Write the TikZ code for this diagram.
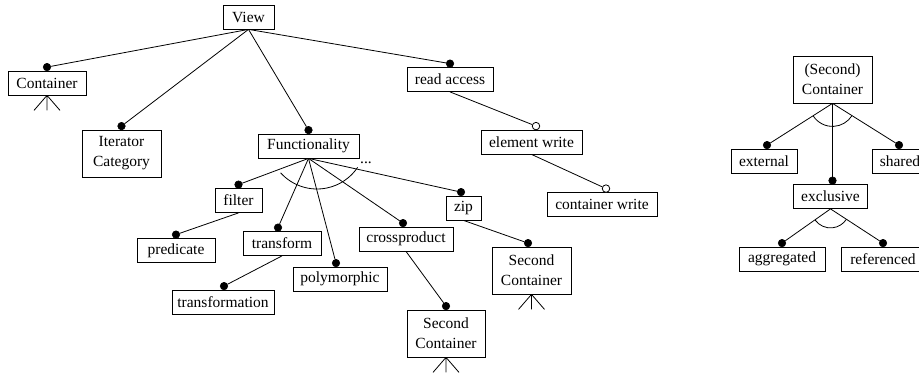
\documentclass[tikz,border=0pt]{standalone}
\usepackage{fontspec}
\setmainfont{Liberation Serif}
\begin{document}
\begin{tikzpicture}[x=1pt,y=-1pt,
  box/.style={draw, line width=0.8pt, font=\fontsize{15.5}{20}\selectfont, minimum height=24pt, inner xsep=2pt, inner ysep=0pt, align=center},
  tall/.style={box, minimum height=47pt},
  dot/.style={circle, fill=black, draw=black, line width=0.6pt, inner sep=0pt, minimum size=7.5pt},
  odot/.style={circle, fill=white, draw=black, line width=0.8pt, inner sep=0pt, minimum size=7.5pt},
  conn/.style={line width=0.8pt},
  lbl/.style={font=\fontsize{15.5}{20}\selectfont, inner sep=0pt}]
\useasboundingbox (0,0) rectangle (919,374);
\clip (0,0) rectangle (919,374);
% boxes
\node[box, minimum width=51pt] (view) at (248.5,17) {View};
\node[box, minimum width=78pt] (cont) at (47,83) {Container};
\node[tall, minimum width=79pt] (iter) at (121.5,153.5) {Iterator\\Category};
\node[box, minimum width=101pt] (func) at (308.5,146) {Functionality};
\node[box, minimum width=86pt] (read) at (450,79.5) {read access};
\node[box, minimum width=101pt] (ewrite) at (531.5,142) {element write};
\node[box, minimum width=110pt] (cwrite) at (602,204.5) {container write};
\node[box, minimum width=47pt] (filter) at (238.5,200.5) {filter};
\node[box, minimum width=78pt] (pred) at (176,250.5) {predicate};
\node[box, minimum width=78pt] (trans) at (282,243.5) {transform};
\node[box, minimum width=102pt] (transf) at (223,302) {transformation};
\node[box, minimum width=94pt] (poly) at (340,279) {polymorphic};
\node[box, minimum width=94pt] (cross) at (406,239) {crossproduct};
\node[box, minimum width=35pt] (zip) at (463.5,208) {zip};
\node[tall, minimum width=78pt] (sc1) at (446,333.5) {Second\\Container};
\node[tall, minimum width=79pt] (sc2) at (531.5,270.5) {Second\\Container};
\node[tall, minimum width=79pt] (sc) at (832.5,79.5) {(Second)\\Container};
\node[box, minimum width=66pt] (ext) at (764,161) {external};
\node[box, minimum width=56pt] (shared) at (900,161) {shared};
\node[box, minimum width=74pt] (excl) at (830.5,196.5) {exclusive};
\node[box, minimum width=86pt] (aggr) at (782,259) {aggregated};
\node[box, minimum width=84pt] (ref) at (883,259) {referenced};
\node[lbl, anchor=base west] (more) at (360,164) {...};
% dots
\node[dot] (dcont) at ([yshift=3.5pt]cont.north) {};
\node[dot] (diter) at ([yshift=3.5pt]iter.north) {};
\node[dot] (dfunc) at ([yshift=3.5pt]func.north) {};
\node[dot] (dread) at ([yshift=3.5pt]read.north) {};
\node[odot] (dewrite) at ([xshift=4.5pt,yshift=3.5pt]ewrite.north) {};
\node[odot] (dcwrite) at ([xshift=4pt,yshift=3.5pt]cwrite.north) {};
\node[dot] (dfilter) at ([yshift=3.5pt]filter.north) {};
\node[dot] (dpred) at ([yshift=3.5pt]pred.north) {};
\node[dot] (dtrans) at ([xshift=-4pt,yshift=3.5pt]trans.north) {};
\node[dot] (dtransf) at ([xshift=1pt,yshift=3.5pt]transf.north) {};
\node[dot] (dpoly) at ([xshift=-4pt,yshift=3.5pt]poly.north) {};
\node[dot] (dcross) at ([xshift=-3pt,yshift=3.5pt]cross.north) {};
\node[dot] (dzip) at ([xshift=-2.5pt,yshift=3.5pt]zip.north) {};
\node[dot] (dsc1) at ([yshift=3.5pt]sc1.north) {};
\node[dot] (dsc2) at ([xshift=-3.5pt,yshift=3.5pt]sc2.north) {};
\node[dot] (dext) at ([xshift=3pt,yshift=3.5pt]ext.north) {};
\node[dot] (dshared) at ([xshift=-1pt,yshift=3.5pt]shared.north) {};
\node[dot] (dexcl) at ([xshift=2pt,yshift=3.5pt]excl.north) {};
\node[dot] (daggr) at ([yshift=3.5pt]aggr.north) {};
\node[dot] (dref) at ([yshift=3.5pt]ref.north) {};
% connectors
\draw[conn] (view.south) -- (dcont);
\draw[conn] (view.south) -- (diter);
\draw[conn] (view.south) -- (dfunc);
\draw[conn] (view.south) -- (dread);
\draw[conn] (read.south) -- (dewrite);
\draw[conn] (ewrite.south) -- (dcwrite);
\draw[conn] (func.south) -- (dfilter);
\draw[conn] (func.south) -- (dtrans);
\draw[conn] (func.south) -- (dpoly);
\draw[conn] (func.south) -- (dcross);
\draw[conn] (func.south) -- (dzip);
\draw[conn] (filter.south) -- (dpred);
\draw[conn] (trans.south) -- (dtransf);
\draw[conn] (cross.south) -- (dsc1);
\draw[conn] (zip.south) -- (dsc2);
\draw[conn] (sc.south) -- (dext);
\draw[conn] (sc.south) -- (dexcl);
\draw[conn] (sc.south) -- (dshared);
\draw[conn] (excl.south) -- (daggr);
\draw[conn] (excl.south) -- (dref);
% arcs
\draw[conn] (317,140) ++(222:49pt) arc[start angle=222, end angle=326, radius=49pt];
\draw[conn] (sc.south) ++(213:23pt) arc[start angle=213, end angle=328, radius=23pt];
\draw[conn] (excl.south) ++(216:19pt) arc[start angle=216, end angle=327, radius=19pt];
% crow's feet
\foreach \n in {cont, sc1, sc2} {
  \draw[conn] (\n.south) -- ++(-13,15) (\n.south) -- ++(0,15) (\n.south) -- ++(13,15);
}
\end{tikzpicture}
\end{document}
